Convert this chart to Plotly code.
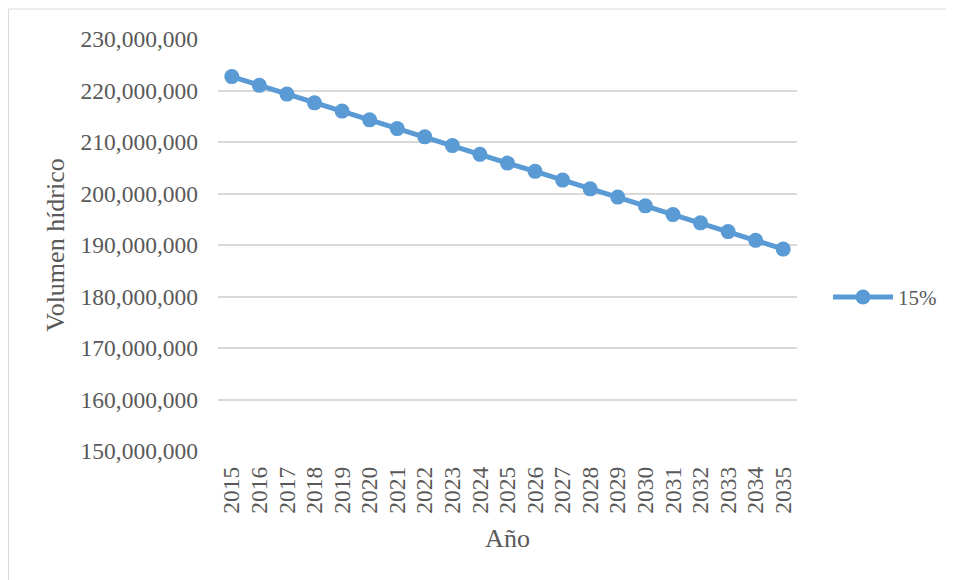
import plotly.graph_objects as go

years = [str(y) for y in range(2015, 2036)]
volumen = [222.7, 221.0, 219.3, 217.6, 216.0, 214.3, 212.6, 211.0, 209.3, 207.6,
           205.9, 204.3, 202.6, 200.9, 199.3, 197.6, 195.9, 194.3, 192.6, 190.9, 189.2]
volumen = [v * 1e6 for v in volumen]
y_ticks = [150e6 + i * 10e6 for i in range(9)]
series_name = "15%"

# page has an 8px body margin; figure is sized to fit the window
W, H = 946, 572
L, T = 210, 31
pw, ph = 579, 412
R, B = W - L - pw, H - T - ph

fig = go.Figure()
fig.add_trace(go.Scatter(
    x=years, y=volumen, name=series_name, mode="lines+markers",
    line=dict(color="#5B9BD5", width=5),
    marker=dict(color="#5B9BD5", size=15),
    showlegend=True,
))

font_color = "#595959"
fig.update_layout(
    width=W, height=H,
    margin=dict(l=L, r=R, t=T, b=B, autoexpand=False),
    paper_bgcolor="white", plot_bgcolor="white",
    font=dict(family="Liberation Serif, Times New Roman, serif", color=font_color, size=23),
    xaxis=dict(
        type="category", range=[-0.5, 20.5], tickangle=-90,
        tickmode="array", tickvals=years, ticktext=years,
        tickfont=dict(size=23.5, color=font_color),
        showgrid=False, zeroline=False, showline=False,
        title=dict(text="Año", font=dict(size=26, color=font_color), standoff=16),
        ticks="", ticklabelstandoff=10,
    ),
    yaxis=dict(
        range=[150e6, 230e6], tickvals=y_ticks,
        ticktext=[f"{int(v):,}" for v in y_ticks],
        tickfont=dict(size=23.5, color=font_color),
        showgrid=True, gridcolor="#D9D9D9", gridwidth=1.5,
        zeroline=False, showline=False, ticks="", ticklabelstandoff=19,
        title=dict(text="Volumen hídrico", font=dict(size=26, color=font_color), standoff=8),
    ),
    legend=dict(
        x=(820 - L) / pw, y=0.373, xanchor="left", yanchor="middle",
        font=dict(size=21, color=font_color), bgcolor="rgba(0,0,0,0)",
        itemwidth=60,
    ),
    shapes=[dict(
        type="rect", xref="paper", yref="paper",
        x0=(0.5 - L) / pw, x1=(944.5 - L) / pw,
        y0=(T + ph - 600) / ph, y1=(T + ph - 1) / ph,
        line=dict(color="#D9D9D9", width=1), fillcolor="rgba(0,0,0,0)", layer="below",
    )],
)

fig.write_html("out.html")
